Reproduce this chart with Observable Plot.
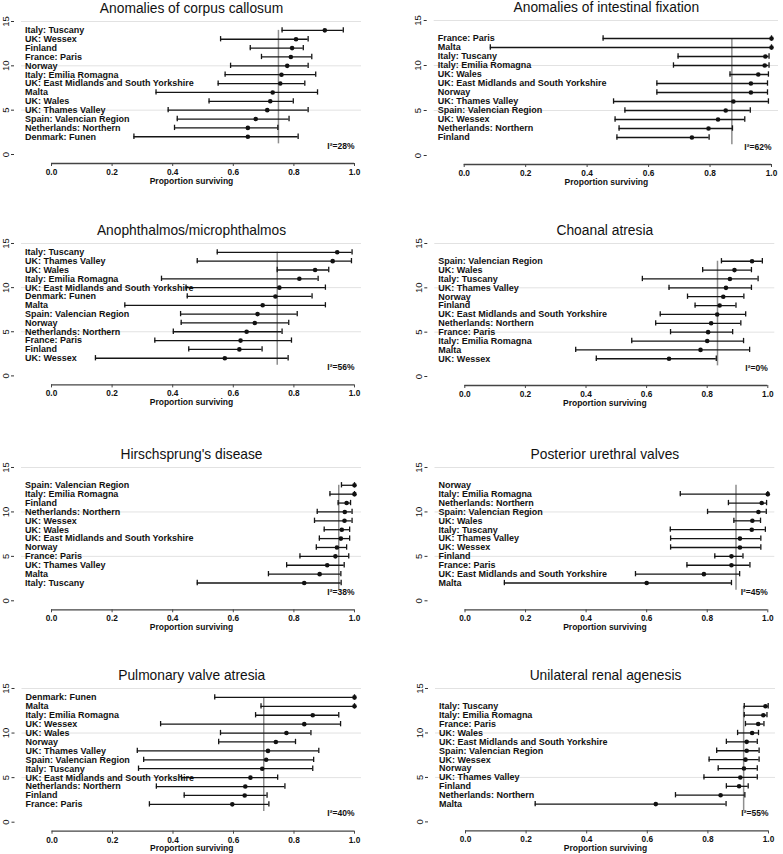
<!DOCTYPE html>
<html>
<head>
<meta charset="utf-8">
<script src="https://cdn.jsdelivr.net/npm/d3@7"></script>
<script src="https://cdn.jsdelivr.net/npm/@observablehq/plot@0.6"></script>
<style>
  html, body { margin: 0; padding: 0; background: #fff; }
  #chart { position: relative; width: 783px; height: 854px; overflow: hidden; background: #fff; }
  #chart svg { position: absolute; }
</style>
</head>
<body>
<div id="chart"></div>
<script>
// ---------- shared tick labels ----------
const xTicks = [0, 0.2, 0.4, 0.6, 0.8, 1.0];
const yTicks = [0, 5, 10, 15];
const gridTicks = [5, 10, 15];
const xLabel = "Proportion surviving";

const titles = [
  "Anomalies of corpus callosum",
  "Anomalies of intestinal fixation",
  "Anophthalmos/microphthalmos",
  "Choanal atresia",
  "Hirschsprung's disease",
  "Posterior urethral valves",
  "Pulmonary valve atresia",
  "Unilateral renal agenesis"
];
const pooled = [0.749, 0.871, 0.745, 0.834, 0.948, 0.895, 0.700, 0.918];
const i2Labels = ["I²=28%", "I²=62%", "I²=56%", "I²=0%", "I²=38%", "I²=45%", "I²=40%", "I²=55%"];

// ---------- panel data (top row first) ----------
const corpusNames = ["Italy: Tuscany", "UK: Wessex", "Finland", "France: Paris", "Norway", "Italy: Emilia Romagna", "UK: East Midlands and South Yorkshire", "Malta", "UK: Wales", "UK: Thames Valley", "Spain: Valencian Region", "Netherlands: Northern", "Denmark: Funen"];
const corpusEst = [0.902, 0.807, 0.794, 0.790, 0.778, 0.759, 0.755, 0.730, 0.722, 0.712, 0.674, 0.648, 0.648];
const corpusLo  = [0.761, 0.558, 0.656, 0.693, 0.591, 0.573, 0.550, 0.345, 0.520, 0.385, 0.415, 0.406, 0.272];
const corpusHi  = [0.963, 0.847, 0.831, 0.859, 0.847, 0.872, 0.836, 0.878, 0.798, 0.847, 0.784, 0.747, 0.814];

const intestNames = ["France: Paris", "Malta", "Italy: Tuscany", "Italy: Emilia Romagna", "UK: Wales", "UK: East Midlands and South Yorkshire", "Norway", "UK: Thames Valley", "Spain: Valencian Region", "UK: Wessex", "Netherlands: Northern", "Finland"];
const intestEst = [1.0, 1.0, 0.980, 0.978, 0.957, 0.933, 0.933, 0.876, 0.851, 0.826, 0.795, 0.741];
const intestLo  = [0.452, 0.085, 0.696, 0.681, 0.865, 0.627, 0.627, 0.486, 0.523, 0.491, 0.504, 0.497];
const intestHi  = [1.0, 1.0, 0.992, 0.992, 0.990, 0.987, 0.987, 0.990, 0.931, 0.913, 0.873, 0.797];

const anophNames = ["Italy: Tuscany", "UK: Thames Valley", "UK: Wales", "Italy: Emilia Romagna", "UK: East Midlands and South Yorkshire", "Denmark: Funen", "Malta", "Spain: Valencian Region", "Norway", "Netherlands: Northern", "France: Paris", "Finland", "UK: Wessex"];
const anophEst = [0.943, 0.928, 0.870, 0.818, 0.752, 0.739, 0.697, 0.680, 0.671, 0.644, 0.624, 0.620, 0.572];
const anophLo  = [0.547, 0.481, 0.745, 0.363, 0.444, 0.448, 0.242, 0.426, 0.428, 0.402, 0.341, 0.453, 0.145];
const anophHi  = [0.992, 0.990, 0.915, 0.880, 0.904, 0.860, 0.904, 0.811, 0.783, 0.761, 0.792, 0.695, 0.781];

const choanNames = ["Spain: Valencian Region", "UK: Wales", "Italy: Tuscany", "UK: Thames Valley", "Norway", "Finland", "UK: East Midlands and South Yorkshire", "Netherlands: Northern", "France: Paris", "Italy: Emilia Romagna", "Malta", "UK: Wessex"];
const choanEst = [0.948, 0.890, 0.875, 0.862, 0.853, 0.841, 0.833, 0.813, 0.803, 0.800, 0.778, 0.674];
const choanLo  = [0.847, 0.785, 0.586, 0.674, 0.735, 0.760, 0.645, 0.630, 0.679, 0.551, 0.366, 0.434];
const choanHi  = [0.982, 0.946, 0.968, 0.946, 0.921, 0.895, 0.927, 0.911, 0.884, 0.920, 0.940, 0.830];

const hirschNames = ["Spain: Valencian Region", "Italy: Emilia Romagna", "Finland", "Netherlands: Northern", "UK: Wessex", "UK: Wales", "UK: East Midlands and South Yorkshire", "Norway", "France: Paris", "UK: Thames Valley", "Malta", "Italy: Tuscany"];
const hirschEst = [1.0, 1.0, 0.974, 0.968, 0.967, 0.958, 0.955, 0.942, 0.937, 0.910, 0.885, 0.834];
const hirschLo  = [0.957, 0.919, 0.946, 0.877, 0.868, 0.900, 0.884, 0.874, 0.820, 0.776, 0.716, 0.481];
const hirschHi  = [1.0, 1.0, 0.987, 0.992, 0.992, 0.984, 0.984, 0.974, 0.981, 0.966, 0.955, 0.956];

const puvNames = ["Norway", "Italy: Emilia Romagna", "Netherlands: Northern", "Spain: Valencian Region", "UK: Wales", "Italy: Tuscany", "UK: Thames Valley", "UK: Wessex", "Finland", "France: Paris", "UK: East Midlands and South Yorkshire", "Malta"];
const puvEst = [null, 1.0, 0.980, 0.969, 0.949, 0.947, 0.908, 0.908, 0.880, 0.880, 0.789, 0.600];
const puvLo  = [null, 0.711, 0.870, 0.801, 0.888, 0.678, 0.679, 0.679, 0.825, 0.733, 0.563, 0.130];
const puvHi  = [null, 1.0, 0.996, 0.995, 0.976, 0.992, 0.977, 0.977, 0.918, 0.941, 0.907, 0.880];

const pvaNames = ["Denmark: Funen", "Malta", "Italy: Emilia Romagna", "UK: Wessex", "UK: Wales", "Norway", "UK: Thames Valley", "Spain: Valencian Region", "Italy: Tuscany", "UK: East Midlands and South Yorkshire", "Netherlands: Northern", "Finland", "France: Paris"];
const pvaEst = [1.0, 1.0, 0.862, 0.834, 0.775, 0.740, 0.714, 0.708, 0.695, 0.656, 0.639, 0.637, 0.596];
const pvaLo  = [0.538, 0.691, 0.673, 0.359, 0.557, 0.551, 0.282, 0.303, 0.286, 0.428, 0.345, 0.437, 0.322];
const pvaHi  = [1.0, 1.0, 0.948, 0.954, 0.856, 0.805, 0.882, 0.865, 0.862, 0.746, 0.770, 0.711, 0.717];

const uraNames = ["Italy: Tuscany", "Italy: Emilia Romagna", "France: Paris", "UK: Wales", "UK: East Midlands and South Yorkshire", "Spain: Valencian Region", "UK: Wessex", "Norway", "UK: Thames Valley", "Finland", "Netherlands: Northern", "Malta"];
const uraEst = [0.990, 0.983, 0.966, 0.946, 0.928, 0.928, 0.924, 0.919, 0.907, 0.903, 0.842, 0.628];
const uraLo  = [0.920, 0.920, 0.924, 0.898, 0.861, 0.829, 0.804, 0.834, 0.787, 0.861, 0.693, 0.230];
const uraHi  = [0.999, 0.995, 0.985, 0.967, 0.963, 0.969, 0.969, 0.963, 0.963, 0.933, 0.922, 0.860];

const panelData = [
  [corpusNames, corpusEst, corpusLo, corpusHi],
  [intestNames, intestEst, intestLo, intestHi],
  [anophNames, anophEst, anophLo, anophHi],
  [choanNames, choanEst, choanLo, choanHi],
  [hirschNames, hirschEst, hirschLo, hirschHi],
  [puvNames, puvEst, puvLo, puvHi],
  [pvaNames, pvaEst, pvaLo, pvaHi],
  [uraNames, uraEst, uraLo, uraHi]
];

// ---------- layout (page pixels where x=0, x=1, y=0, y=15 fall) ----------
const layout = [
  {L: 0,   x0: 51,    x1: 354,   y0: 154,   y15: 21},
  {L: 392, x0: 463.7, x1: 771,   y0: 155,   y15: 20},
  {L: 0,   x0: 51,    x1: 354,   y0: 375.7, y15: 243.3},
  {L: 392, x0: 464.3, x1: 767.3, y0: 376,   y15: 243},
  {L: 0,   x0: 51,    x1: 354,   y0: 600,   y15: 466.7},
  {L: 392, x0: 464.5, x1: 767.3, y0: 600,   y15: 466.7},
  {L: 0,   x0: 51.5,  x1: 354,   y0: 821.7, y15: 688},
  {L: 392, x0: 465,   x1: 768,   y0: 821.7, y15: 688.3}
];

const FONT = "'Liberation Sans', Arial, Helvetica, sans-serif";
const chart = document.getElementById("chart");

layout.forEach((g, k) => {
  const [names, est, lo, hi] = panelData[k];
  const n = names.length;
  const rows = names.map((name, i) => ({name, y: n + 1 - i, est: est[i], lo: lo[i], hi: hi[i]}));
  const valid = rows.filter(r => r.est != null);
  const kx = g.x1 - g.x0, ky = (g.y0 - g.y15) / 15;
  const W = 391, T = g.y15 - 30, H = (g.y0 + 9) + 30 - T;
  const xLo = -30 / kx, xHi = 1 + 7 / kx;
  const yLo = -9 / ky;
  const yMin = d3.min(rows, r => r.y), yMax = d3.max(rows, r => r.y);

  const svg = Plot.plot({
    width: W,
    height: H,
    marginLeft: (g.x0 - 30) - g.L,
    marginRight: g.L + W - (g.x1 + 7),
    marginTop: 30,
    marginBottom: 30,
    style: {fontFamily: FONT, fontSize: "8px", color: "#111", background: "transparent", overflow: "visible"},
    x: {domain: [xLo, xHi]},
    y: {domain: [yLo, 15]},
    marks: [
      Plot.gridY(gridTicks, {stroke: "#e2e2e2", strokeOpacity: 1, strokeWidth: 1}),
      Plot.ruleX([pooled[k]], {y1: yMin - 0.8, y2: yMax, stroke: "#8e8e8e", strokeWidth: 1.5}),
      Plot.ruleY(valid, {y: "y", x1: "lo", x2: "hi", stroke: "#151515", strokeWidth: 1.3}),
      Plot.ruleX(valid, {x: "lo", y1: d => d.y - 0.3, y2: d => d.y + 0.3, stroke: "#151515", strokeWidth: 1.3}),
      Plot.ruleX(valid, {x: "hi", y1: d => d.y - 0.3, y2: d => d.y + 0.3, stroke: "#151515", strokeWidth: 1.3}),
      Plot.dot(valid, {x: "est", y: "y", r: 2.3, fill: "#111", stroke: null}),
      Plot.text(rows, {x: -26.5 / kx, y: "y", text: "name", textAnchor: "start", fontSize: 9, fill: "#111", fontWeight: "bold"}),
      Plot.text([i2Labels[k]], {x: () => xTicks[xTicks.length - 1], frameAnchor: "bottom", dy: -15, textAnchor: "end", fontSize: 8.5, fill: "#111", fontWeight: "bold"}),
      Plot.text([titles[k]], {frameAnchor: "top", dy: -18.5, fontSize: 13.8, fill: "#111"}),
      Plot.ruleY([yLo], {x1: xTicks[0], x2: xTicks[xTicks.length - 1], stroke: "#444", strokeWidth: 1.3}),
      Plot.axisX({ticks: xTicks, tickFormat: d3.format(".1f"), tickSize: 3, tickPadding: 2.5, fontSize: 8.3, label: null, stroke: "#444", fill: "#111", fontWeight: "bold"}),
      Plot.text([xLabel], {frameAnchor: "bottom", dy: 20, fontSize: 8.5, fill: "#111", fontWeight: "bold"}),
      Plot.axisY({ticks: yTicks, tickSize: 3, dx: -7, tickRotate: -90, tickPadding: 3, fontSize: 9.5, label: null, stroke: "#333", fill: "#111"})
    ]
  });
  svg.style.left = g.L + "px";
  svg.style.top = T + "px";
  chart.appendChild(svg);
});
</script>
</body>
</html>
